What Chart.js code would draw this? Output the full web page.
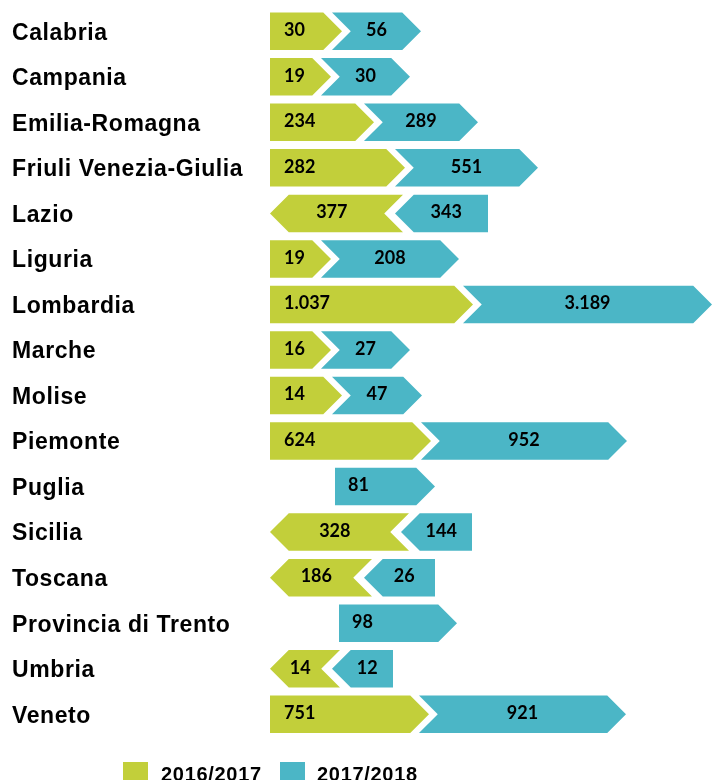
<!DOCTYPE html>
<html>
<head>
<meta charset="utf-8">
<style>
  html, body { margin: 0; padding: 0; background: #fff; overflow: hidden; }
</style>
</head>
<body>
<canvas id="chart" width="712" height="780"></canvas>
<script src="https://cdn.jsdelivr.net/npm/chart.js@4/dist/chart.umd.min.js"></script>
<script>
const regions = [
  'Calabria', 'Campania', 'Emilia-Romagna', 'Friuli Venezia-Giulia', 'Lazio',
  'Liguria', 'Lombardia', 'Marche', 'Molise', 'Piemonte', 'Puglia', 'Sicilia',
  'Toscana', 'Provincia di Trento', 'Umbria', 'Veneto'
]
const seriesLabels = ['2016/2017', '2017/2018']

// values printed on the arrows (null = no figure for that year)
const values1617 = [30, 19, 234, 282, 377, 19, 1037, 16, 14, 624, null, 328, 186, null, 14, 751]
const values1718 = [56, 30, 289, 551, 343, 208, 3189, 27, 47, 952, 81, 144, 26, 98, 12, 921]

// the source graphic is not drawn to scale, these are the arrow lengths as they appear in it
const length1617 = [72, 61, 104, 135, 133, 61, 203, 61, 72, 161, 65, 139, 102, 69, 70, 159]
const length1718 = [79, 79, 104, 133, 85, 128, 239, 79, 80, 196, 100, 63, 63, 118, 53, 197]

const GREEN = '#c2cf3a'
const TEAL = '#4bb6c6'

function fmt(v) {
  return String(v).replace(/\B(?=(\d{3})+(?!\d))/g, '.')
}

// arrow shape: head points to dir, tail is flat or notched
function chevron(ctx, left, right, top, bottom, dir, notched, color) {
  const mid = (top + bottom) / 2
  const d = (bottom - top) / 2
  ctx.beginPath()
  if (dir === 'right') {
    ctx.moveTo(left, top)
    ctx.lineTo(right - d, top)
    ctx.lineTo(right, mid)
    ctx.lineTo(right - d, bottom)
    ctx.lineTo(left, bottom)
    if (notched) ctx.lineTo(left + d, mid)
  } else {
    ctx.moveTo(right, top)
    ctx.lineTo(left + d, top)
    ctx.lineTo(left, mid)
    ctx.lineTo(left + d, bottom)
    ctx.lineTo(right, bottom)
    if (notched) ctx.lineTo(right - d, mid)
  }
  ctx.closePath()
  ctx.fillStyle = color
  ctx.fill()
}

const arrowsPlugin = {
  id: 'arrows',
  beforeDraw(chart) {
    chart.ctx.letterSpacing = '0.6px'
  },
  beforeDatasetsDraw(chart) {
    chart.ctx.letterSpacing = '0px'
  },
  beforeDatasetDraw() {
    return false
  },
  afterDatasetsDraw(chart) {
    const ctx = chart.ctx
    const bars0 = chart.getDatasetMeta(0).data
    const bars1 = chart.getDatasetMeta(1).data
    ctx.save()
    ctx.font = 'bold 18px Lato, "Open Sans", sans-serif'
    ctx.fillStyle = '#000'
    ctx.textBaseline = 'middle'

    regions.forEach((name, i) => {
      const g = bars0[i]
      const t = bars1[i]
      const top = g.y - g.height / 2
      const bottom = g.y + g.height / 2
      const d = g.height / 2
      const a = values1617[i]
      const b = values1718[i]
      const ty = g.y - 1

      if (a === null) {
        // only the newer year
        chevron(ctx, t.base, t.x, top, bottom, 'right', false, TEAL)
        ctx.fillStyle = '#000'
        ctx.textAlign = 'left'
        ctx.fillText(fmt(b), t.base + 13, ty)
      } else if (b >= a) {
        chevron(ctx, g.base, g.x, top, bottom, 'right', false, GREEN)
        chevron(ctx, t.base - 10, t.x, top, bottom, 'right', true, TEAL)
        ctx.fillStyle = '#000'
        ctx.textAlign = 'left'
        ctx.fillText(fmt(a), g.base + 14, ty)
        ctx.textAlign = 'center'
        ctx.fillText(fmt(b), (t.base - 10 + t.x) / 2, ty)
      } else {
        chevron(ctx, g.base, g.x, top, bottom, 'left', true, GREEN)
        chevron(ctx, t.base - 8, t.x, top, bottom, 'left', false, TEAL)
        ctx.fillStyle = '#000'
        ctx.textAlign = 'center'
        ctx.fillText(fmt(a), (g.base + g.x - d / 2) / 2, ty)
        ctx.fillText(fmt(b), (t.base - 8 + d / 2 + t.x) / 2, ty)
      }
    })
    ctx.restore()
  },
  afterDraw(chart) {
    // legend, partly cut by the bottom edge as in the source
    const ctx = chart.ctx
    ctx.save()
    ctx.font = 'bold 20px "Liberation Sans", Arial, sans-serif'
    ctx.letterSpacing = '0.7px'
    ctx.textBaseline = 'alphabetic'
    ctx.textAlign = 'left'
    const items = [
      { box: 123, text: 161, color: GREEN, label: seriesLabels[0] },
      { box: 280, text: 317, color: TEAL, label: seriesLabels[1] }
    ]
    items.forEach(it => {
      ctx.fillStyle = it.color
      ctx.fillRect(it.box, 762, 25, 25)
      ctx.fillStyle = '#000'
      ctx.fillText(it.label, it.text, 781)
    })
    ctx.restore()
  }
}

new Chart(document.getElementById('chart'), {
  type: 'bar',
  data: {
    labels: regions,
    datasets: [
      { label: seriesLabels[0], data: length1617, backgroundColor: GREEN },
      { label: seriesLabels[1], data: length1718, backgroundColor: TEAL }
    ]
  },
  options: {
    indexAxis: 'y',
    responsive: false,
    animation: false,
    layout: { padding: { left: 12, right: 0, top: 8.5, bottom: 43 } },
    datasets: {
      bar: { barPercentage: 0.824, categoryPercentage: 1 }
    },
    plugins: {
      legend: { display: false },
      tooltip: { enabled: false }
    },
    scales: {
      x: {
        stacked: true,
        display: false,
        min: 0,
        max: 442
      },
      y: {
        stacked: true,
        grid: { display: false },
        border: { display: false },
        afterFit: scale => {
          scale.width = 258
          scale.paddingTop = 0
          scale.paddingBottom = 0
        },
        ticks: {
          crossAlign: 'far',
          padding: 0,
          labelOffset: 2,
          color: '#000',
          font: { family: '"Liberation Sans", Arial, sans-serif', size: 23, weight: 'bold' }
        }
      }
    }
  },
  plugins: [arrowsPlugin]
})
</script>
</body>
</html>
